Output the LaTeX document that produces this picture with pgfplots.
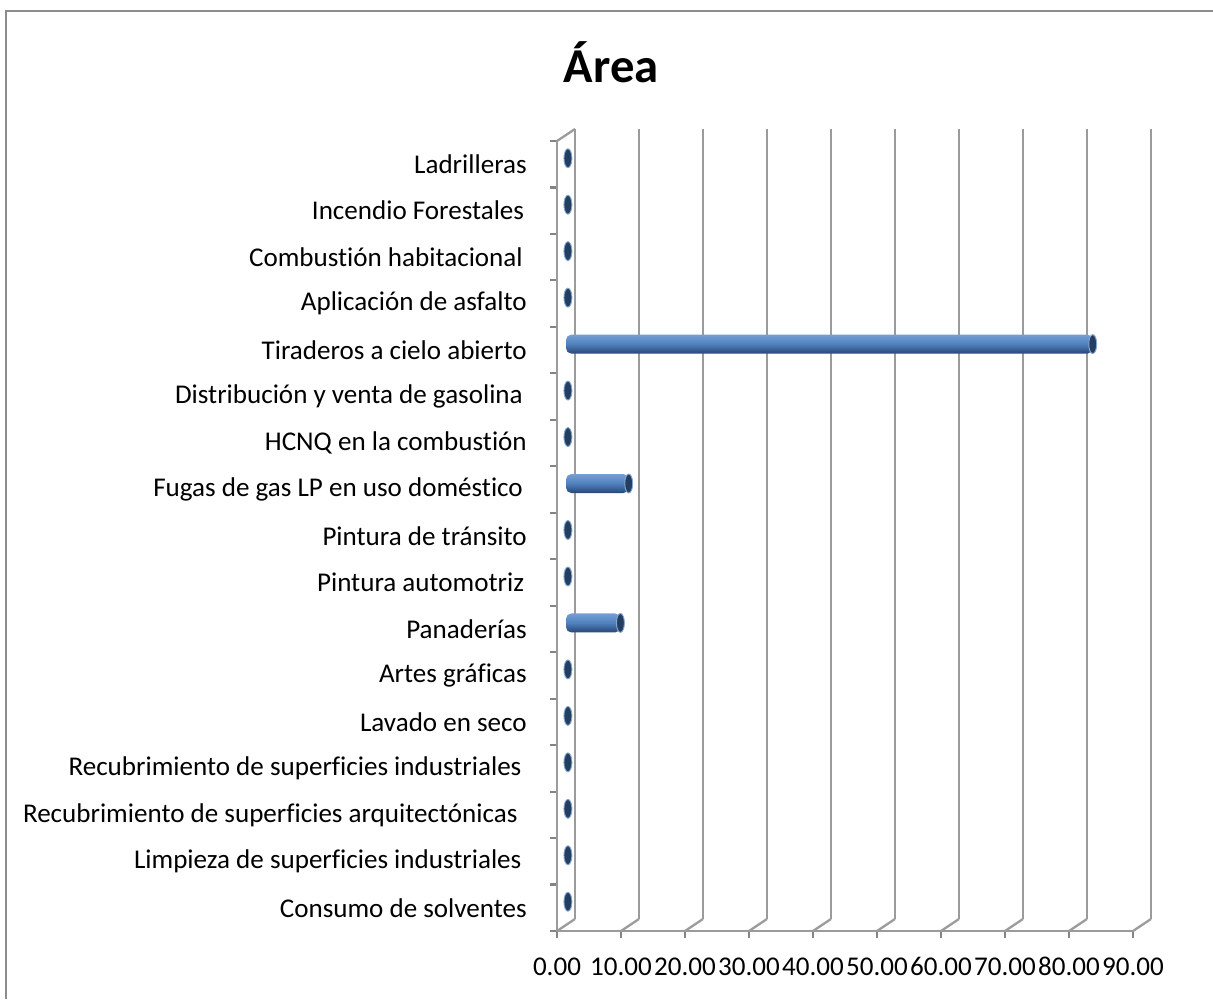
\documentclass[border=0pt]{standalone}
\usepackage{fontspec}
\setmainfont{Carlito}[Ligatures=NoCommon]
\usepackage{pgfplots}
\pgfplotsset{compat=1.18}
\usepackage{pgfplotstable}
\definecolor{gridc}{RGB}{155,155,155}
\definecolor{barmid}{RGB}{79,129,189}
\definecolor{bartop}{RGB}{118,158,212}
\definecolor{barbot}{RGB}{40,70,115}
\definecolor{capc}{RGB}{36,62,98}
\definecolor{framec}{RGB}{140,140,140}

\pgfplotstableread{
y v
16 0.3
15 0.3
14 0.3
13 0.3
12 82.3
11 0.3
10 0.3
9 9.8
8 0.3
7 0.3
6 8.5
5 0.3
4 0.3
3 0.3
2 0.3
1 0.3
0 0.3
}\areadata

\begin{document}
\begin{tikzpicture}
\path[use as bounding box] (0pt,0pt) rectangle (909.75pt,749.25pt);
\draw[framec, line width=1.5pt] (4.5pt,0pt) -- (4.5pt,741pt) -- (909.75pt,741pt);
\node[font=\fontsize{36.5}{42}\selectfont\bfseries, anchor=base] at (458.5pt,687pt) {Área};

% back wall grid
\begin{axis}[at={(431.25pt,60pt)}, anchor=south west, scale only axis,
  width=432pt, height=592.5pt,
  xmin=0, xmax=90, ymin=-0.5, ymax=16.5,
  axis line style={draw=none},
  xtick={0,10,...,90}, ytick=\empty, xticklabels={},
  major tick length=0pt,
  xmajorgrids, major grid style={gridc, line width=2pt}]
\end{axis}

% front plane: axes, ticks, labels
\begin{axis}[at={(417.75pt,51pt)}, anchor=south west, scale only axis,
  width=432pt, height=592.5pt,
  xmin=0, xmax=90, ymin=-0.5, ymax=16.5,
  axis x line*=bottom, axis y line*=left,
  axis line style={gridc, line width=2pt},
  xtick={0,10,...,90},
  xticklabels={0.00,10.00,20.00,30.00,40.00,50.00,60.00,70.00,80.00,90.00},
  minor xtick={0,10,...,90},
  ytick={0,...,16},
  yticklabels={Consumo de solventes,
    Limpieza de superficies industriales\kern4pt,
    Recubrimiento de superficies arquitectónicas\kern7pt,
    Recubrimiento de superficies industriales\kern4pt,
    Lavado en seco,
    Artes gráficas,
    Panaderías,
    Pintura automotriz\kern2pt,
    Pintura de tránsito,
    Fugas de gas LP en uso doméstico\kern3pt,
    HCNQ en la combustión,
    Distribución y venta de gasolina\kern3pt,
    Tiraderos a cielo abierto,
    Aplicación de asfalto,
    Combustión habitacional\kern3pt,
    Incendio Forestales\kern2pt,
    Ladrilleras},
  minor ytick={-0.5,0.5,...,16.5},
  major tick length=0pt, minor tick length=5.25pt, tick align=outside,
  minor tick style={gridc!85!black, line width=1.6pt},
  tick label style={font=\fontsize{20.3}{24}\selectfont, inner sep=0pt},
  xticklabel style={anchor=base, yshift=-33.75pt},
  yticklabel style={anchor=east, xshift=-22.5pt},
  clip=false]
\pgfplotsinvokeforeach{0,10,...,90}{\draw[gridc, line width=1.7pt] (axis cs:#1,-0.5) -- ++(13.5pt,9pt);}
\draw[gridc, line width=1.7pt] (axis cs:0,16.5) -- ++(13.5pt,9pt);
\end{axis}

% bars (mid depth)
\begin{axis}[at={(424.5pt,55.5pt)}, anchor=south west, scale only axis,
  width=432pt, height=592.5pt,
  xmin=0, xmax=90, ymin=-0.5, ymax=16.5,
  hide axis, clip=false,
  every axis plot/.append style={xbar, bar width=14.25pt, draw=none,
    top color=bartop, bottom color=barbot, middle color=barmid, rounded corners=4pt}]
\addplot coordinates {(82.3,12)};
\addplot coordinates {(9.8,9)};
\addplot coordinates {(8.5,6)};
\addplot[only marks, mark=*, mark size=7.1pt, draw=none,
  mark options={xscale=0.42, fill=capc, draw=barmid!70, line width=0.7pt}]
  table[x=v,y=y]{\areadata};
\end{axis}
\end{tikzpicture}
\end{document}
